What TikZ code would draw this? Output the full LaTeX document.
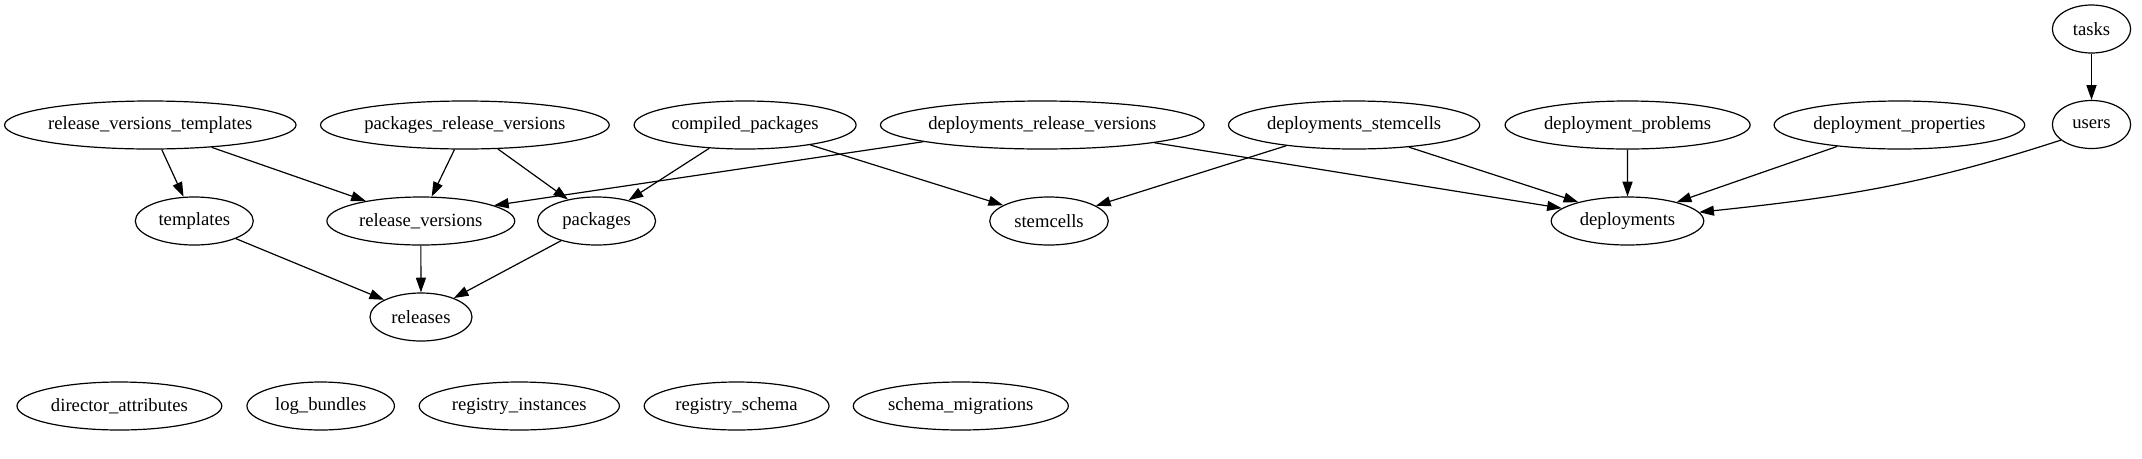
\documentclass[tikz,border=0pt]{standalone}
\usepackage{fontspec}
\setmainfont{Liberation Serif}
\usetikzlibrary{shapes.geometric,arrows.meta}
\newcommand\lbl[1]{\makebox[0pt]{#1}}
\tikzset{
  tbl/.style={draw, ellipse, line width=0.9pt, minimum height=36pt, inner sep=0pt,
    font=\fontsize{14pt}{16pt}\selectfont},
  edge/.style={line width=0.9pt, -{Triangle[length=11pt,width=7.5pt]}}
}
\begin{document}
\begin{tikzpicture}[x=0.75pt,y=-0.75pt]
\useasboundingbox (0,0) rectangle (2142,458);
% row 0
\node[tbl, minimum width=58.7pt] (tasks) at (2091.5,29) {\lbl{tasks}};
% row 1
\node[tbl, minimum width=218.6pt] (rvt) at (150.3,125) {\lbl{release\_versions\_templates}};
\node[tbl, minimum width=216.6pt] (prv) at (464.9,125) {\lbl{packages\_release\_versions}};
\node[tbl, minimum width=166.5pt] (cp) at (745.1,125) {\lbl{compiled\_packages}};
\node[tbl, minimum width=242.8pt] (drv) at (1042.3,125) {\lbl{deployments\_release\_versions}};
\node[tbl, minimum width=188.4pt] (ds) at (1354.1,125) {\lbl{deployments\_stemcells}};
\node[tbl, minimum width=183.8pt] (dprob) at (1627.6,125) {\lbl{deployment\_problems}};
\node[tbl, minimum width=188pt] (dprop) at (1899.4,125) {\lbl{deployment\_properties}};
\node[tbl, minimum width=58.7pt] (users) at (2091.5,124.5) {\lbl{users}};
% row 2
\node[tbl, minimum width=88.5pt] (templates) at (194.3,221) {\lbl{templates}};
\node[tbl, minimum width=140.9pt] (rv) at (420.8,221) {\lbl{release\_versions}};
\node[tbl, minimum width=88.5pt] (packages) at (596.6,221) {\lbl{packages}};
\node[tbl, minimum width=88.9pt] (stemcells) at (1049,221) {\lbl{stemcells}};
\node[tbl, minimum width=114.4pt] (deployments) at (1627.5,221) {\lbl{deployments}};
% row 3
\node[tbl, minimum width=76.5pt] (releases) at (421,317) {\lbl{releases}};
% isolated
\node[tbl, minimum width=153.6pt] (dattr) at (119.4,406) {\lbl{director\_attributes}};
\node[tbl, minimum width=110.6pt] (logb) at (320.7,406) {\lbl{log\_bundles}};
\node[tbl, minimum width=150.2pt] (reginst) at (519.3,406) {\lbl{registry\_instances}};
\node[tbl, minimum width=138.6pt] (regschema) at (736.6,406) {\lbl{registry\_schema}};
\node[tbl, minimum width=161.3pt] (schemam) at (960.8,406) {\lbl{schema\_migrations}};
% edges
\draw[edge] (tasks) -- (users);
\draw[edge] (rvt.-65) -- (templates.114);
\draw[edge] (rvt.-20.4) -- (rv.160.2);
\draw[edge] (prv.247.2) -- (rv.66);
\draw[edge] (prv.-36) -- (packages.143.3);
\draw[edge] (cp.213.5) -- (packages.33.7);
\draw[edge] (cp.-17.3) -- (stemcells.161.6);
\draw[edge] (drv.188.1) -- (rv.12.9);
\draw[edge] (drv.-9.85) -- (deployments.169.9);
\draw[edge] (ds.197.9) -- (stemcells.18.1);
\draw[edge] (ds.-22) -- (deployments.159.1);
\draw[edge] (dprob) -- (deployments);
\draw[edge] (dprop.199.7) -- (deployments.21);
\draw[edge] (users.207.3) to[out=198,in=6] (deployments.7.2);
\draw[edge] (templates.-23.4) -- (releases.155.7);
\draw[edge] (rv) -- (releases);
\draw[edge] (packages.209) -- (releases.30);
\end{tikzpicture}
\end{document}
